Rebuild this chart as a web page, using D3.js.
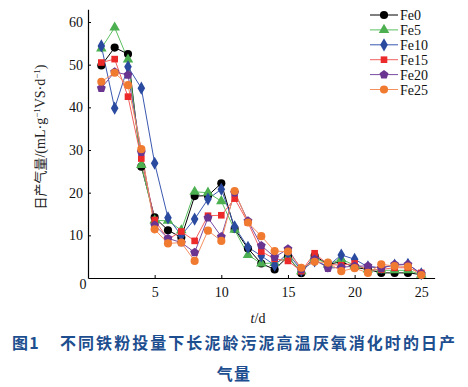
<!DOCTYPE html>
<html>
<head>
<meta charset="utf-8">
<script src="https://cdn.jsdelivr.net/npm/d3@7"></script>
<style>
  body { margin: 0; background: #fff; }
  svg { display: block; }
</style>
</head>
<body>
<div id="container"></div>
<script>
// data
const days = d3.range(1, 26);
const seriesNames = ["Fe0", "Fe5", "Fe10", "Fe15", "Fe20", "Fe25"];
const fe0  = [49.8, 54.0, 52.5, 26.1, 14.2, 11.2, 9.5, 19.2, 19.3, 22.2, 11.5, 6.9, 3.4, 2.0, 5.0, 1.1, 5.2, 3.2, 3.8, 2.5, 2.0, 1.2, 1.2, 1.2, 0.8];
const fe5  = [53.8, 58.7, 51.2, 26.5, 13.5, 13.4, 11.2, 20.2, 20.0, 18.0, 11.3, 5.4, 3.4, 3.5, 4.8, 1.6, 4.8, 3.2, 4.4, 3.0, 2.0, 1.8, 1.8, 1.8, 0.8];
const fe10 = [54.4, 39.8, 49.5, 44.5, 26.9, 14.1, 10.0, 13.8, 18.5, 20.8, 12.0, 7.2, 5.2, 3.0, 5.8, 1.8, 4.0, 2.8, 5.4, 4.4, 2.6, 2.4, 3.0, 3.2, 1.0];
const fe15 = [50.5, 51.3, 42.5, 28.0, 13.6, 9.1, 10.9, 8.7, 14.6, 14.7, 18.6, 13.0, 6.2, 4.5, 4.0, 1.6, 5.8, 3.2, 3.0, 3.4, 1.8, 2.0, 2.4, 2.4, 1.2];
const fe20 = [44.5, 48.3, 47.6, 29.5, 12.4, 9.3, 8.3, 6.0, 14.1, 9.7, 20.0, 13.4, 7.6, 4.9, 6.8, 2.0, 4.4, 2.3, 2.5, 2.8, 2.8, 2.3, 3.2, 3.2, 1.0];
const fe25 = [46.0, 48.1, 45.2, 30.2, 11.4, 8.1, 8.3, 4.0, 11.1, 8.7, 20.4, 13.0, 9.8, 6.3, 6.2, 2.4, 3.8, 3.6, 1.6, 2.3, 1.2, 3.2, 2.8, 2.7, 0.7];
const seriesValues = [fe0, fe5, fe10, fe15, fe20, fe25];
const xTicks = [5, 10, 15, 20, 25];
const yTicks = [10, 20, 30, 40, 50, 60];

const colors = ["#000000", "#4cb050", "#2a4aa0", "#ec2a2a", "#6a3590", "#f07a30"];
const lineColors = ["#000000", "#5cc060", "#3a58b0", "#f26060", "#7a4aa0", "#f59060"];

// pentagon symbol (d3 has none)
const symbolPentagon = {
  draw(ctx, size) {
    const r = Math.sqrt(size / 2.38);
    for (let i = 0; i < 5; i++) {
      const a = -Math.PI / 2 + i * 2 * Math.PI / 5;
      if (i === 0) ctx.moveTo(r * Math.cos(a), r * Math.sin(a));
      else ctx.lineTo(r * Math.cos(a), r * Math.sin(a));
    }
    ctx.closePath();
  }
};
const symbols = [d3.symbolCircle, d3.symbolTriangle, d3.symbolDiamond, d3.symbolSquare, symbolPentagon, d3.symbolCircle];
const sizes = [52, 48, 50, 44, 52, 52];

const W = 468, H = 387;
const svg = d3.select("#container").append("svg")
  .attr("width", W)
  .attr("height", H);

const x = d3.scaleLinear().domain([0, 26]).range([88, 434.6]);
const y = d3.scaleLinear().domain([0, 63]).range([278, 9.2]);

const serif = "'Liberation Serif', 'DejaVu Serif', serif";
const cjk = "'Noto Sans CJK SC', sans-serif";

/* axes */
const xAxis = svg.append("g")
  .attr("transform", "translate(0," + y(0) + ")")
  .call(d3.axisBottom(x).tickValues(xTicks).tickSizeInner(-3).tickSizeOuter(0).tickPadding(9));
const yAxis = svg.append("g")
  .attr("transform", "translate(" + x(0) + ",0)")
  .call(d3.axisLeft(y).tickValues(yTicks).tickSizeInner(-3).tickSizeOuter(0).tickPadding(5));

[xAxis, yAxis].forEach(function(g) {
  g.select(".domain").attr("stroke", "#000").attr("stroke-width", 1.2);
  g.selectAll(".tick line").attr("stroke", "#000");
  g.selectAll(".tick text")
    .attr("fill", "#111")
    .style("font-family", serif)
    .style("font-size", "14px");
});

svg.append("text")
  .attr("x", x(0) - 5)
  .attr("y", y(0) + 11)
  .attr("text-anchor", "middle")
  .style("font-family", serif)
  .style("font-size", "14px")
  .attr("fill", "#111")
  .text("0");

/* series */
const line = d3.line()
  .x(function(d, i) { return x(days[i]); })
  .y(function(d) { return y(d); });

seriesValues.forEach(function(vals, k) {
  svg.append("path")
    .datum(vals)
    .attr("fill", "none")
    .attr("stroke", lineColors[k])
    .attr("stroke-width", 1)
    .attr("d", line);
});
seriesValues.forEach(function(vals, k) {
  svg.append("g").selectAll("path")
    .data(vals)
    .enter().append("path")
      .attr("transform", function(d, i) { return "translate(" + x(days[i]) + "," + y(d) + ")"; })
      .attr("d", d3.symbol().type(symbols[k]).size(sizes[k]))
      .attr("fill", colors[k]);
});

/* legend */
const legend = svg.append("g").attr("transform", "translate(370,15)");
seriesNames.forEach(function(name, k) {
  const row = legend.append("g").attr("transform", "translate(0," + k * 14.9 + ")");
  row.append("line")
    .attr("x1", 0).attr("x2", 28)
    .attr("stroke", lineColors[k]).attr("stroke-width", 1);
  row.append("path")
    .attr("transform", "translate(14,0)")
    .attr("d", d3.symbol().type(symbols[k]).size(sizes[k]))
    .attr("fill", colors[k]);
  row.append("text")
    .attr("x", 30)
    .attr("y", 5)
    .style("font-family", serif)
    .style("font-size", "14px")
    .attr("fill", "#111")
    .text(name);
});

/* axis titles: chinese part in CJK font, units in serif */
const yTitle = svg.append("text")
  .attr("transform", "translate(45,137) rotate(-90)")
  .attr("text-anchor", "middle")
  .style("font-family", serif)
  .style("font-size", "14px")
  .attr("fill", "#222");
yTitle.append("tspan").style("font-family", cjk).style("font-size", "13px").text("日产气量");
yTitle.append("tspan").text("/(mL·g");
yTitle.append("tspan").attr("dy", -5).style("font-size", "9px").text("−1");
yTitle.append("tspan").attr("dy", 5).text("VS·d");
yTitle.append("tspan").attr("dy", -5).style("font-size", "9px").text("−1");
yTitle.append("tspan").attr("dy", 5).text(")");

const xTitle = svg.append("text")
  .attr("x", 258)
  .attr("y", 323)
  .attr("text-anchor", "middle")
  .style("font-family", serif)
  .style("font-size", "14px")
  .attr("fill", "#111");
xTitle.append("tspan").style("font-style", "italic").text("t");
xTitle.append("tspan").text("/d");

/* caption */
svg.append("text")
  .attr("x", 12)
  .attr("y", 349)
  .style("font-family", cjk)
  .style("font-size", "16px")
  .style("font-weight", "bold")
  .style("letter-spacing", "1.2px")
  .attr("fill", "#1d4e8f")
  .text("图1");
svg.append("text")
  .attr("x", 60)
  .attr("y", 349)
  .attr("textLength", 395)
  .style("font-family", cjk)
  .style("font-size", "16px")
  .style("font-weight", "bold")
  .attr("fill", "#1d4e8f")
  .text("不同铁粉投量下长泥龄污泥高温厌氧消化时的日产");
svg.append("text")
  .attr("x", 234)
  .attr("y", 380)
  .attr("text-anchor", "middle")
  .style("font-family", cjk)
  .style("font-size", "16px")
  .style("font-weight", "bold")
  .style("letter-spacing", "1.2px")
  .attr("fill", "#1d4e8f")
  .text("气量");
</script>
</body>
</html>
